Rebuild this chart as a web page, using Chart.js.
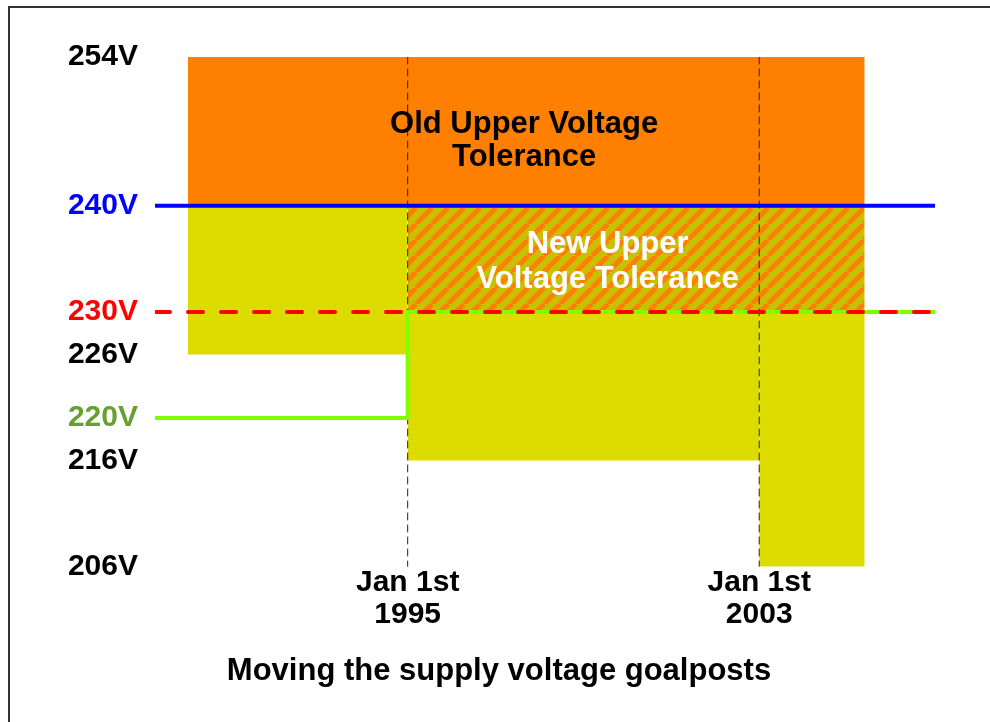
<!DOCTYPE html>
<html>
<head>
<meta charset="utf-8">
<script src="https://cdn.jsdelivr.net/npm/chart.js@4/dist/chart.umd.min.js"></script>
<style>
  html, body { margin: 0; padding: 0; background: #fff; }
  #wrap { width: 990px; height: 722px; position: relative; }
</style>
</head>
<body>
<div id="wrap"><canvas id="voltChart" width="990" height="722"></canvas></div>
<script>
// axis range in years, and the two change-over dates
const yearRange = [1989.25, 2007];
const changeYears = [1995, 2003];
const changeLabels = [['Jan 1st', '1995'], ['Jan 1st', '2003']];

// tolerance eras: start / end year, lower limit and top of yellow band (V)
const eraStart = [1990, 1995, 2003];
const eraEnd = [1995, 2003, 2005.4];
const eraLower = [226, 216, 206];
const eraUpper = [240, 230, 230];

// old upper tolerance (orange) and new upper tolerance (hatched)
const oldUpperBand = [240, 254];
const newUpperBand = [230, 240];

// reference voltages
const yTicks = [254, 240, 230, 226, 220, 216, 206];
const ukNominal = 240;
const euroNominal = 230;
const supplyYears = [1989.25, 1995, 1995, 2007];
const supplyVolts = [220, 220, 230, 230];

const chartTitle = 'Moving the supply voltage goalposts';

const orange = '#FF8000';
const yellow = '#DCDC00';
const tickColors = { 240: '#0000FF', 230: '#FF0000', 220: '#66A030' };
const fontFamily = '"Liberation Sans", Arial, Helvetica, sans-serif';

// diagonal orange stripes on olive for the new tolerance
const hatch = (() => {
    const s = 16;
    const c = document.createElement('canvas');
    c.width = s; c.height = s;
    const g = c.getContext('2d');
    g.fillStyle = '#C8C000';
    g.fillRect(0, 0, s, s);
    g.strokeStyle = orange;
    g.lineWidth = 5;
    g.beginPath();
    for (const o of [-s, 0, s]) {
        g.moveTo(o, s);
        g.lineTo(o + s, 0);
    }
    g.stroke();
    return g.createPattern(c, 'repeat');
})();

function band(x0, x1, top, bottom, color, order) {
    return {
        data: [{x: x0, y: top}, {x: x1, y: top}],
        fill: {value: bottom},
        backgroundColor: color,
        borderColor: 'transparent',
        borderWidth: 0,
        pointRadius: 0,
        order: order
    };
}

function hline(xs, ys, color, width, dash, order) {
    return {
        data: xs.map((x, i) => ({x: x, y: ys[i]})),
        fill: false,
        borderColor: color,
        borderWidth: width,
        borderDash: dash,
        borderCapStyle: 'round',
        borderJoinStyle: 'miter',
        pointRadius: 0,
        order: order
    };
}

const datasets = [];
// background fills first (higher order = drawn earlier)
datasets.push(band(eraStart[0], eraEnd[2], oldUpperBand[1], oldUpperBand[0], orange, 20));
for (let i = 0; i < eraStart.length; i++) {
    datasets.push(band(eraStart[i], eraEnd[i], eraUpper[i], eraLower[i], yellow, 19 - i));
}
datasets.push(band(eraStart[1], eraEnd[2], newUpperBand[1], newUpperBand[0], hatch, 15));
// dashed date markers
changeYears.forEach((yr, i) => {
    datasets.push(hline([yr, yr], [yTicks[0], yTicks[yTicks.length - 1]], '#222', 1, [7, 5], 10 - i));
});
datasets.push(hline(supplyYears, supplyVolts, '#80FF00', 4, [], 3));
datasets.push(hline(yearRange, [euroNominal, euroNominal], '#FF0000', 4, [15, 18], 2));
datasets.push(hline(yearRange, [ukNominal, ukNominal], '#0000FF', 4, [], 1));

const notes = [
    {x: 1997.65, y: 246.1, lines: ['Old Upper Voltage', 'Tolerance'], color: '#000', gap: 33},
    {x: 1999.55, y: 234.7, lines: ['New Upper', 'Voltage Tolerance'], color: '#FFF', gap: 35}
];

const notePlugin = {
    id: 'notes',
    afterDatasetsDraw(chart) {
        const ctx = chart.ctx;
        const xs = chart.scales.x, ys = chart.scales.y;
        ctx.save();
        ctx.font = 'bold 31px ' + fontFamily;
        ctx.textAlign = 'center';
        ctx.textBaseline = 'middle';
        for (const n of notes) {
            const cx = xs.getPixelForValue(n.x);
            const cy = ys.getPixelForValue(n.y);
            const start = cy - (n.lines.length - 1) * n.gap / 2;
            ctx.fillStyle = n.color;
            n.lines.forEach((t, i) => ctx.fillText(t, cx, start + i * n.gap));
        }
        ctx.restore();
    },
    afterDraw(chart) {
        const ctx = chart.ctx;
        ctx.save();
        // title under the axis
        ctx.font = 'bold 31px ' + fontFamily;
        ctx.fillStyle = '#000';
        ctx.textAlign = 'center';
        ctx.textBaseline = 'middle';
        ctx.fillText(chartTitle, 499, 671);
        // frame round the slide
        ctx.strokeStyle = '#333';
        ctx.lineWidth = 2;
        ctx.beginPath();
        ctx.moveTo(9, 722);
        ctx.lineTo(9, 7);
        ctx.lineTo(990, 7);
        ctx.stroke();
        ctx.restore();
    }
};

const ctx = document.getElementById('voltChart').getContext('2d');
const voltChart = new Chart(ctx, {
    type: 'line',
    data: { datasets: datasets },
    plugins: [notePlugin],
    options: {
        responsive: false,
        animation: false,
        events: [],
        layout: { padding: { left: 0, right: 55, top: 57, bottom: 91 } },
        plugins: {
            legend: { display: false },
            tooltip: { enabled: false },
            title: { display: false }
        },
        scales: {
            x: {
                type: 'linear',
                min: yearRange[0],
                max: yearRange[1],
                grid: { display: false, drawTicks: false },
                border: { display: false },
                afterBuildTicks: (scale) => { scale.ticks = changeYears.map(v => ({value: v})); },
                ticks: {
                    autoSkip: false,
                    maxRotation: 0,
                    padding: 0,
                    color: '#000',
                    font: { family: fontFamily, size: 30, weight: 'bold', lineHeight: 1.07 },
                    callback: (value) => {
                        const i = changeYears.indexOf(value);
                        return i >= 0 ? changeLabels[i] : '';
                    }
                }
            },
            y: {
                type: 'linear',
                min: yTicks[yTicks.length - 1],
                max: yTicks[0],
                grid: { display: false, drawTicks: false },
                border: { display: false },
                afterFit: (scale) => { scale.width = 155; },
                afterBuildTicks: (scale) => { scale.ticks = yTicks.map(v => ({value: v})); },
                ticks: {
                    autoSkip: false,
                    padding: 17,
                    color: (c) => tickColors[c.tick.value] || '#000',
                    font: { family: fontFamily, size: 30, weight: 'bold' },
                    callback: (value) => value + 'V'
                }
            }
        }
    }
});
</script>
</body>
</html>
